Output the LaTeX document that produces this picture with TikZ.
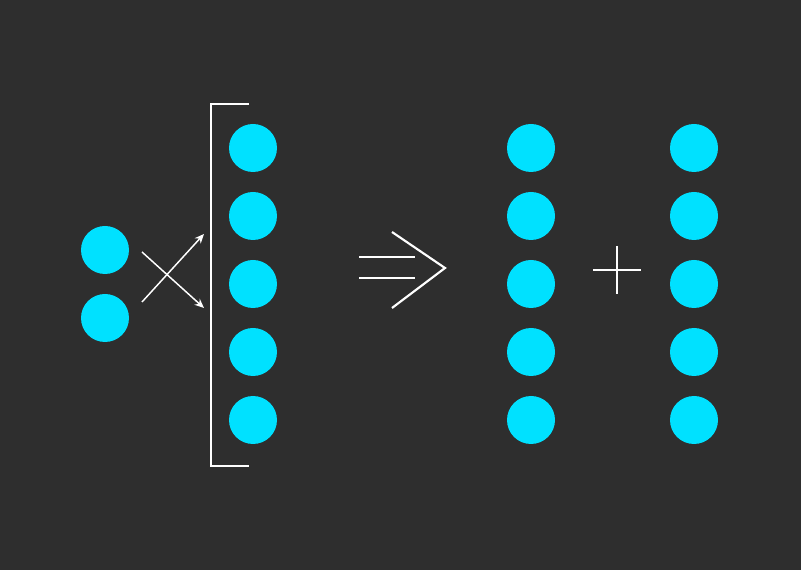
\documentclass[tikz,border=0pt]{standalone}
\usepackage{xcolor}
\usetikzlibrary{positioning,arrows.meta}
\definecolor{bgdark}{HTML}{2E2E2E}
\definecolor{dotcyan}{HTML}{00E1FF}

\begin{document}
\begin{tikzpicture}[
  x=0.75pt,y=-0.75pt,
  dot/.style={circle,fill=dotcyan,minimum size=36pt,inner sep=0pt},
  stroke/.style={white,line width=1.6pt},
  arrow/.style={-{Stealth[length=7pt,width=6pt]},white,line width=1.1pt}
]
  \fill[bgdark] (0,0) rectangle (801,570);
  \node[dot] (p1) at (105,250) {};
  \node[dot] (p2) at (105,318) {};
  \foreach \i in {1,...,5}{
    \node[dot] (a\i) at (253,{80+68*\i}) {};
    \node[dot] (b\i) at (531,{80+68*\i}) {};
    \node[dot] (c\i) at (694,{80+68*\i}) {};
  }
  % crossing arrows
  \coordinate (x1) at (142,252);
  \coordinate (x2) at (142,302);
  \coordinate (y1) at (204,234);
  \coordinate (y2) at (204,308);
  \draw[arrow] (x1) -- (y2);
  \draw[arrow] (x2) -- (y1);
  % bracket
  \coordinate (bt) at (249,104);
  \coordinate (bb) at (249,466);
  \draw[stroke] (bt) -- (211,104) -- (211,466) -- (bb);
  % implies
  \coordinate (i1) at (359,257);
  \coordinate (i2) at (415,257);
  \coordinate (i3) at (359,278);
  \coordinate (i4) at (415,278);
  \draw[stroke] (i1) -- (i2);
  \draw[stroke] (i3) -- (i4);
  \coordinate (ct) at (392,232);
  \coordinate (cm) at (445,268);
  \coordinate (cb) at (392,308);
  \draw[stroke] (ct) -- (cm) -- (cb);
  % plus
  \coordinate (pl) at (593,270);
  \coordinate (pr) at (641,270);
  \coordinate (pt) at (617,246);
  \coordinate (pb) at (617,294);
  \draw[stroke] (pl) -- (pr);
  \draw[stroke] (pt) -- (pb);
\end{tikzpicture}
\end{document}
